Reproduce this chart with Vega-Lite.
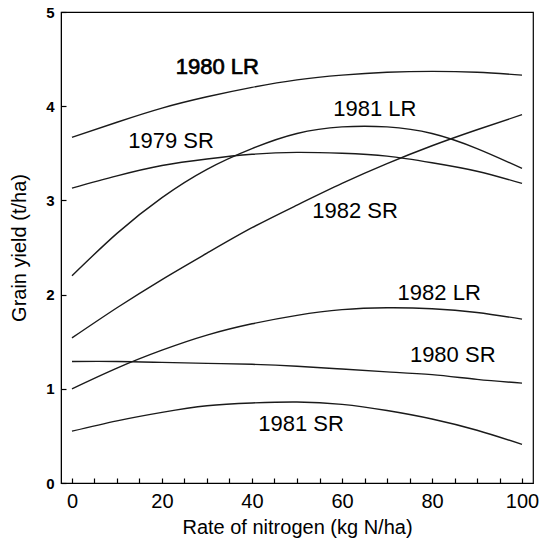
{
  "$schema": "https://vega.github.io/schema/vega-lite/v6.json",
  "autosize": {"type": "none"},
  "padding": {"left": 61, "top": 12, "right": 11, "bottom": 65},
  "width": 472,
  "height": 471,
  "background": "white",
  "config": {
    "view": {"stroke": "black", "strokeWidth": 1.2},
    "font": "Liberation Sans"
  },
  "datasets": {
    "curves": [
      {"series": "1980 LR", "N": 0, "yield": 3.67}, {"series": "1980 LR", "N": 10, "yield": 3.83}, {"series": "1980 LR", "N": 20, "yield": 3.98}, {"series": "1980 LR", "N": 30, "yield": 4.10}, {"series": "1980 LR", "N": 40, "yield": 4.20}, {"series": "1980 LR", "N": 50, "yield": 4.28}, {"series": "1980 LR", "N": 60, "yield": 4.33}, {"series": "1980 LR", "N": 70, "yield": 4.36}, {"series": "1980 LR", "N": 80, "yield": 4.37}, {"series": "1980 LR", "N": 90, "yield": 4.36}, {"series": "1980 LR", "N": 100, "yield": 4.33},
      {"series": "1979 SR", "N": 0, "yield": 3.13}, {"series": "1979 SR", "N": 10, "yield": 3.26}, {"series": "1979 SR", "N": 20, "yield": 3.37}, {"series": "1979 SR", "N": 30, "yield": 3.44}, {"series": "1979 SR", "N": 40, "yield": 3.49}, {"series": "1979 SR", "N": 50, "yield": 3.51}, {"series": "1979 SR", "N": 60, "yield": 3.50}, {"series": "1979 SR", "N": 70, "yield": 3.47}, {"series": "1979 SR", "N": 80, "yield": 3.40}, {"series": "1979 SR", "N": 90, "yield": 3.31}, {"series": "1979 SR", "N": 100, "yield": 3.18},
      {"series": "1981 LR", "N": 0, "yield": 2.20}, {"series": "1981 LR", "N": 10, "yield": 2.65}, {"series": "1981 LR", "N": 20, "yield": 3.03}, {"series": "1981 LR", "N": 30, "yield": 3.33}, {"series": "1981 LR", "N": 40, "yield": 3.55}, {"series": "1981 LR", "N": 50, "yield": 3.71}, {"series": "1981 LR", "N": 60, "yield": 3.78}, {"series": "1981 LR", "N": 70, "yield": 3.78}, {"series": "1981 LR", "N": 80, "yield": 3.71}, {"series": "1981 LR", "N": 90, "yield": 3.55}, {"series": "1981 LR", "N": 100, "yield": 3.34},
      {"series": "1982 SR", "N": 0, "yield": 1.54}, {"series": "1982 SR", "N": 10, "yield": 1.86}, {"series": "1982 SR", "N": 20, "yield": 2.16}, {"series": "1982 SR", "N": 30, "yield": 2.44}, {"series": "1982 SR", "N": 40, "yield": 2.71}, {"series": "1982 SR", "N": 50, "yield": 2.95}, {"series": "1982 SR", "N": 60, "yield": 3.18}, {"series": "1982 SR", "N": 70, "yield": 3.39}, {"series": "1982 SR", "N": 80, "yield": 3.58}, {"series": "1982 SR", "N": 90, "yield": 3.75}, {"series": "1982 SR", "N": 100, "yield": 3.91},
      {"series": "1982 LR", "N": 0, "yield": 1.00}, {"series": "1982 LR", "N": 10, "yield": 1.22}, {"series": "1982 LR", "N": 20, "yield": 1.41}, {"series": "1982 LR", "N": 30, "yield": 1.57}, {"series": "1982 LR", "N": 40, "yield": 1.69}, {"series": "1982 LR", "N": 50, "yield": 1.78}, {"series": "1982 LR", "N": 60, "yield": 1.84}, {"series": "1982 LR", "N": 70, "yield": 1.86}, {"series": "1982 LR", "N": 80, "yield": 1.85}, {"series": "1982 LR", "N": 90, "yield": 1.81}, {"series": "1982 LR", "N": 100, "yield": 1.74},
      {"series": "1980 SR", "N": 0, "yield": 1.29}, {"series": "1980 SR", "N": 10, "yield": 1.29}, {"series": "1980 SR", "N": 20, "yield": 1.28}, {"series": "1980 SR", "N": 30, "yield": 1.27}, {"series": "1980 SR", "N": 40, "yield": 1.26}, {"series": "1980 SR", "N": 50, "yield": 1.24}, {"series": "1980 SR", "N": 60, "yield": 1.21}, {"series": "1980 SR", "N": 70, "yield": 1.18}, {"series": "1980 SR", "N": 80, "yield": 1.15}, {"series": "1980 SR", "N": 90, "yield": 1.10}, {"series": "1980 SR", "N": 100, "yield": 1.06},
      {"series": "1981 SR", "N": 0, "yield": 0.55}, {"series": "1981 SR", "N": 10, "yield": 0.66}, {"series": "1981 SR", "N": 20, "yield": 0.75}, {"series": "1981 SR", "N": 30, "yield": 0.82}, {"series": "1981 SR", "N": 40, "yield": 0.85}, {"series": "1981 SR", "N": 50, "yield": 0.86}, {"series": "1981 SR", "N": 60, "yield": 0.835}, {"series": "1981 SR", "N": 70, "yield": 0.77}, {"series": "1981 SR", "N": 80, "yield": 0.68}, {"series": "1981 SR", "N": 90, "yield": 0.56}, {"series": "1981 SR", "N": 100, "yield": 0.41}
    ],
    "labels": [
      {"label": "1980 LR", "N": 32.3, "yield": 4.42, "bold": true},
      {"label": "1979 SR", "N": 22.0, "yield": 3.63, "bold": false},
      {"label": "1981 LR", "N": 67.3, "yield": 3.965, "bold": false},
      {"label": "1982 SR", "N": 62.9, "yield": 2.89, "bold": false},
      {"label": "1982 LR", "N": 81.6, "yield": 2.02, "bold": false},
      {"label": "1980 SR", "N": 84.6, "yield": 1.36, "bold": false},
      {"label": "1981 SR", "N": 50.9, "yield": 0.63, "bold": false}
    ]
  },
  "encoding": {
    "x": {
      "field": "N", "type": "quantitative",
      "scale": {"domain": [-2.44, 102.44], "nice": false, "zero": false},
      "axis": {
        "values": [0, 5, 10, 15, 20, 25, 30, 35, 40, 45, 50, 55, 60, 65, 70, 75, 80, 85, 90, 95, 100],
        "labelExpr": "datum.value % 20 === 0 ? datum.label : ''",
        "labelOverlap": false, "labelFlush": false,
        "grid": false, "tickSize": -5, "labelPadding": 13,
        "labelFontSize": 20, "labelColor": "black",
        "domainColor": "black", "tickColor": "black", "tickWidth": 1.2,
        "title": "Rate of nitrogen (kg N/ha)", "titleFontSize": 20, "titleFontWeight": "normal",
        "titleColor": "black", "titlePadding": 6
      }
    },
    "y": {
      "field": "yield", "type": "quantitative",
      "scale": {"domain": [0, 5], "nice": false},
      "axis": {
        "values": [0, 1, 2, 3, 4, 5],
        "grid": false, "tickSize": -5, "labelPadding": 12, "tickWidth": 1.2,
        "labelFontSize": 15, "labelFontWeight": "bold", "labelColor": "black",
        "domainColor": "black", "tickColor": "black",
        "title": "Grain yield (t/ha)", "titleFontSize": 20, "titleFontWeight": "normal",
        "titleColor": "black", "titlePadding": 16
      }
    }
  },
  "layer": [
    {
      "data": {"name": "curves"},
      "mark": {"type": "line", "interpolate": "natural", "color": "#1a1a1a", "strokeWidth": 1.4},
      "encoding": {"detail": {"field": "series"}}
    },
    {
      "data": {"name": "labels"},
      "transform": [{"filter": "!datum.bold"}],
      "mark": {"type": "text", "fontSize": 22, "color": "black", "align": "center", "baseline": "middle"},
      "encoding": {"text": {"field": "label"}}
    },
    {
      "data": {"name": "labels"},
      "transform": [{"filter": "datum.bold"}],
      "mark": {"type": "text", "fontSize": 22, "color": "black", "stroke": "black", "strokeWidth": 0.7, "align": "center", "baseline": "middle"},
      "encoding": {"text": {"field": "label"}}
    }
  ]
}
